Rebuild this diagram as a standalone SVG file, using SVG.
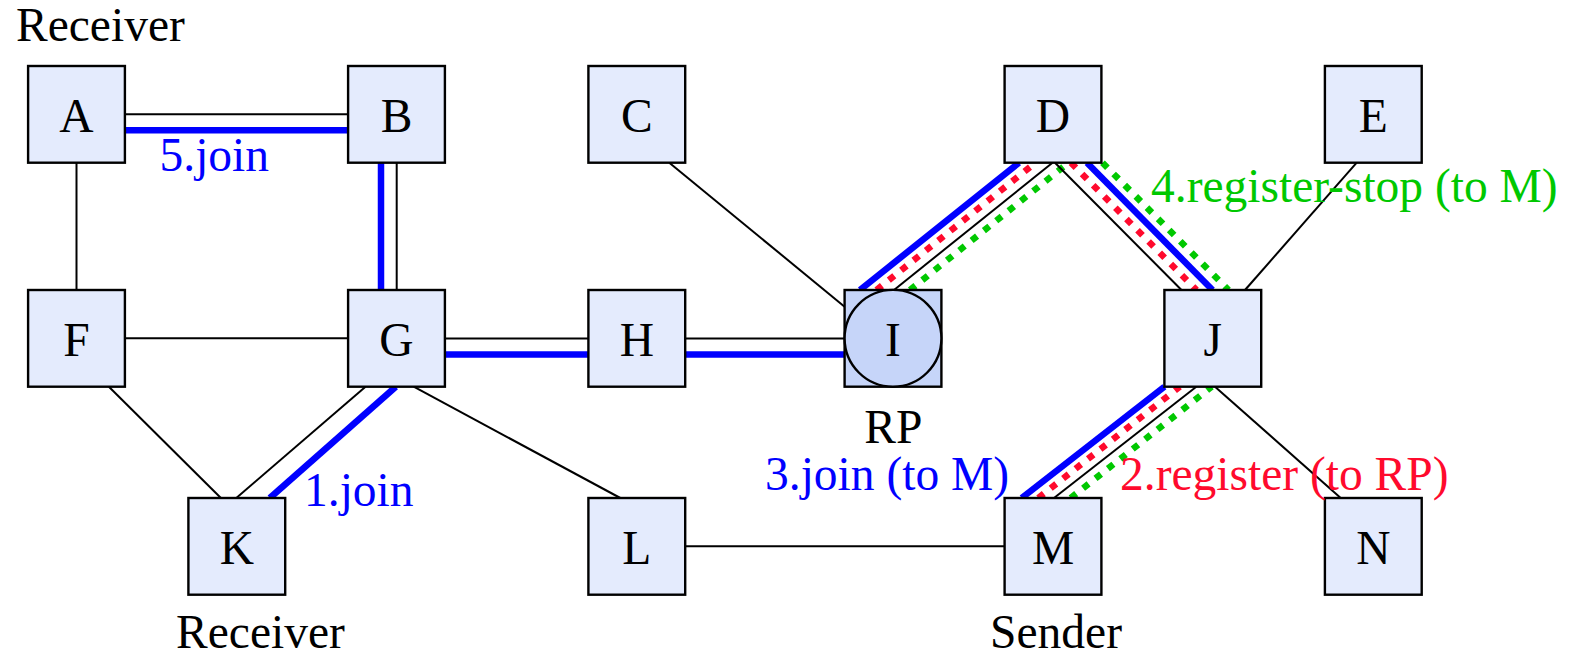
<svg xmlns="http://www.w3.org/2000/svg" width="1575" height="656" viewBox="0 0 1575 656">
<style>
  .box { fill: #e4ebfd; stroke: #000; stroke-width: 2.4; }
  .rp { fill: #c6d5f9; stroke: #000; stroke-width: 2.4; }
  .lbl { font-family: "Liberation Serif", "Times New Roman", serif; font-size: 47.5px; fill: #000; }
  .nl { font-family: "Liberation Serif", "Times New Roman", serif; font-size: 47.5px; fill: #000; text-anchor: middle; }
  .e { stroke: #000; stroke-width: 2; fill: none; }
  .b { stroke: #0000ff; stroke-width: 6.5; fill: none; }
  .r { stroke: #ff0a2d; stroke-width: 6.5; stroke-dasharray: 7 8.8; fill: none; }
  .g { stroke: #00c800; stroke-width: 6.5; stroke-dasharray: 7 8.8; fill: none; }
  .tb { fill: #0000ff; }
  .tr { fill: #ff0a2d; }
  .tg { fill: #00c800; }
</style>
<rect width="1575" height="656" fill="#fff"/>
<g id="connectors">
  <!-- A-B -->
  <line class="e" x1="125" y1="114.3" x2="348" y2="114.3"/>
  <line class="b" x1="125" y1="130.3" x2="348" y2="130.3"/>
  <!-- B-G -->
  <line class="e" x1="396.7" y1="162.7" x2="396.7" y2="290"/>
  <line class="b" x1="381" y1="162.7" x2="381" y2="290"/>
  <!-- A-F -->
  <line class="e" x1="76.5" y1="162.7" x2="76.5" y2="290"/>
  <!-- F-G -->
  <line class="e" x1="125" y1="338.3" x2="348" y2="338.3"/>
  <!-- G-H -->
  <line class="e" x1="445" y1="338.5" x2="588.4" y2="338.5"/>
  <line class="b" x1="445" y1="354.5" x2="588.4" y2="354.5"/>
  <!-- H-I -->
  <line class="e" x1="685.2" y1="338.5" x2="844.6" y2="338.5"/>
  <line class="b" x1="685.2" y1="354.5" x2="844.6" y2="354.5"/>
  <!-- C-I -->
  <line class="e" x1="669.3" y1="162.7" x2="844.6" y2="306.7"/>
  <!-- F-K -->
  <line class="e" x1="108.9" y1="386.7" x2="220.9" y2="498"/>
  <!-- G-K -->
  <line class="e" x1="365.5" y1="386.7" x2="236.3" y2="498"/>
  <line class="b" x1="395.8" y1="386.7" x2="269.8" y2="498"/>
  <!-- G-L -->
  <line class="e" x1="413.7" y1="386.7" x2="620.3" y2="498"/>
  <!-- L-M -->
  <line class="e" x1="685.2" y1="546.3" x2="1004.6" y2="546.3"/>
  <!-- D-I -->
  <line class="b" x1="860" y1="290" x2="1019" y2="162.7"/>
  <line class="r" x1="876.5" y1="290" x2="1035.5" y2="162.7"/>
  <line class="e" x1="894" y1="290" x2="1052.5" y2="162.7"/>
  <line class="g" x1="910" y1="290" x2="1068.5" y2="162.7"/>
  <!-- D-J -->
  <line class="e" x1="1055" y1="162.7" x2="1181.5" y2="290"/>
  <line class="r" x1="1071" y1="162.7" x2="1196.5" y2="290"/>
  <line class="b" x1="1087" y1="162.7" x2="1212.5" y2="290"/>
  <line class="g" x1="1102.5" y1="162.7" x2="1228.5" y2="290"/>
  <!-- J-M -->
  <line class="b" x1="1021.7" y1="498" x2="1164.4" y2="386.7"/>
  <line class="r" x1="1038.3" y1="498" x2="1179.8" y2="386.7"/>
  <line class="e" x1="1054" y1="498" x2="1196.3" y2="386.7"/>
  <line class="g" x1="1070.7" y1="498" x2="1211.7" y2="386.7"/>
  <!-- E-J -->
  <line class="e" x1="1356.7" y1="162.7" x2="1245" y2="290"/>
  <!-- J-N -->
  <line class="e" x1="1215" y1="386.7" x2="1340.7" y2="498"/>
</g>
<g id="node-A"><rect class="box" x="28.1" y="66" width="96.8" height="96.7"/><text class="nl" x="76.5" y="131.5">A</text></g>
<g id="node-B"><rect class="box" x="348.1" y="66" width="96.8" height="96.7"/><text class="nl" x="396.5" y="131.5">B</text></g>
<g id="node-C"><rect class="box" x="588.4" y="66" width="96.8" height="96.7"/><text class="nl" x="636.8" y="131.5">C</text></g>
<g id="node-D"><rect class="box" x="1004.6" y="66" width="96.8" height="96.7"/><text class="nl" x="1053" y="131.5">D</text></g>
<g id="node-E"><rect class="box" x="1324.9" y="66" width="96.8" height="96.7"/><text class="nl" x="1373.3" y="131.5">E</text></g>
<g id="node-F"><rect class="box" x="28.1" y="290" width="96.8" height="96.7"/><text class="nl" x="76.5" y="355.5">F</text></g>
<g id="node-G"><rect class="box" x="348.1" y="290" width="96.8" height="96.7"/><text class="nl" x="396.5" y="355.5">G</text></g>
<g id="node-H"><rect class="box" x="588.4" y="290" width="96.8" height="96.7"/><text class="nl" x="636.8" y="355.5">H</text></g>
<g id="node-I"><rect class="rp" x="844.6" y="290" width="96.8" height="96.7"/><circle class="rp" cx="893" cy="338.3" r="48.4"/><text class="nl" x="893" y="355.5">I</text></g>
<g id="node-J"><rect class="box" x="1164.4" y="290" width="96.8" height="96.7"/><text class="nl" x="1212.8" y="355.5">J</text></g>
<g id="node-K"><rect class="box" x="188.4" y="498" width="96.8" height="96.7"/><text class="nl" x="236.8" y="563.5">K</text></g>
<g id="node-L"><rect class="box" x="588.4" y="498" width="96.8" height="96.7"/><text class="nl" x="636.8" y="563.5">L</text></g>
<g id="node-M"><rect class="box" x="1004.6" y="498" width="96.8" height="96.7"/><text class="nl" x="1053" y="563.5">M</text></g>
<g id="node-N"><rect class="box" x="1324.9" y="498" width="96.8" height="96.7"/><text class="nl" x="1373.3" y="563.5">N</text></g>
<g id="labels">
  <text class="lbl" x="16" y="41">Receiver</text>
  <text class="lbl" x="260.5" y="648" text-anchor="middle">Receiver</text>
  <text class="lbl" x="1056" y="648" text-anchor="middle">Sender</text>
  <text class="lbl" x="893.3" y="443" text-anchor="middle">RP</text>
  <text class="lbl tb" x="159.5" y="171">5.join</text>
  <text class="lbl tb" x="304" y="506">1.join</text>
  <text class="lbl tb" x="765" y="490">3.join (to M)</text>
  <text class="lbl tr" x="1120" y="490">2.register (to RP)</text>
  <text class="lbl tg" x="1151" y="202">4.register-stop (to M)</text>
</g>
</svg>
